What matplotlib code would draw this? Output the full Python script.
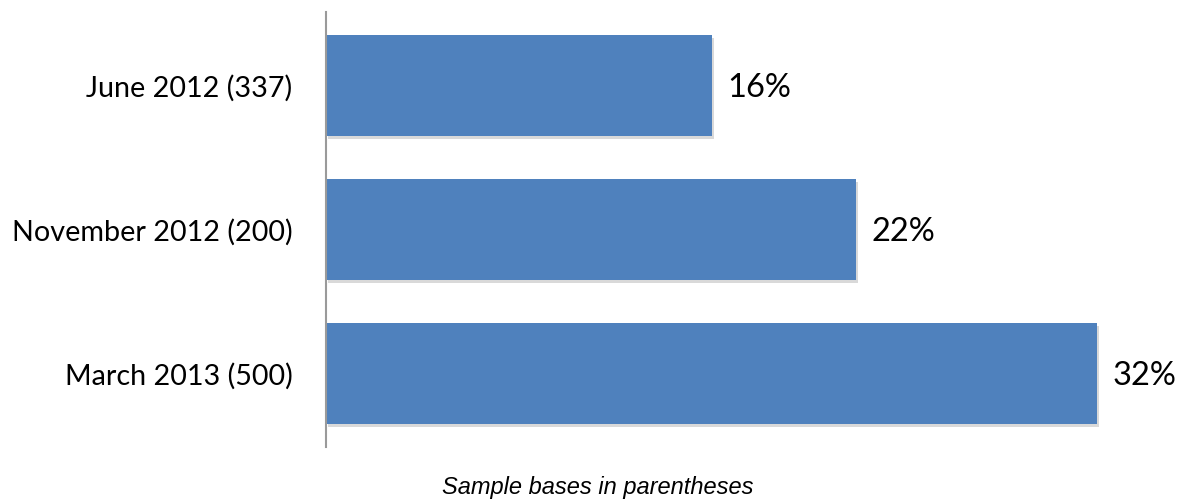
import matplotlib
matplotlib.use("Agg")
import matplotlib.pyplot as plt
import matplotlib.patheffects as pe

# data (bottom to top)
labels = ["March 2013 (500)", "November 2012 (200)", "June 2012 (337)"]
values = [32, 22, 16]

bar_color = "#4F81BD"

fig = plt.figure(figsize=(11.87, 4.99), dpi=100)
ax = fig.add_axes([0.2746, 0.1042, 0.7106, 0.8717])

pos = list(range(len(values)))
bars = ax.barh(pos, values, height=0.70, color=bar_color, zorder=2)
for b in bars:
    b.set_path_effects([pe.SimplePatchShadow(offset=(1.5, -2), shadow_rgbFace="#000000", alpha=0.15),
                        pe.Normal()])

for p, v in zip(pos, values):
    ax.text(v + 0.65, p - 0.02, f"{v}%", va="center", ha="left",
            fontsize=23.5, family="Lato", color="black")

ax.set_xlim(0, 35)
ax.set_ylim(-0.51, 2.51)
ax.set_yticks(pos)
ax.set_yticklabels(labels, fontsize=20.7, family="Lato")
ax.tick_params(axis="y", length=0, pad=24)
ax.set_xticks([])

for s in ["top", "right", "bottom"]:
    ax.spines[s].set_visible(False)
ax.spines["left"].set_color("#9A9A9A")
ax.spines["left"].set_linewidth(1.5)

fig.text(0.504, 0.0, "Sample bases in parentheses", ha="center", va="bottom",
         fontsize=17, style="italic", family="Liberation Sans")

fig.savefig("out.png", dpi=100)
